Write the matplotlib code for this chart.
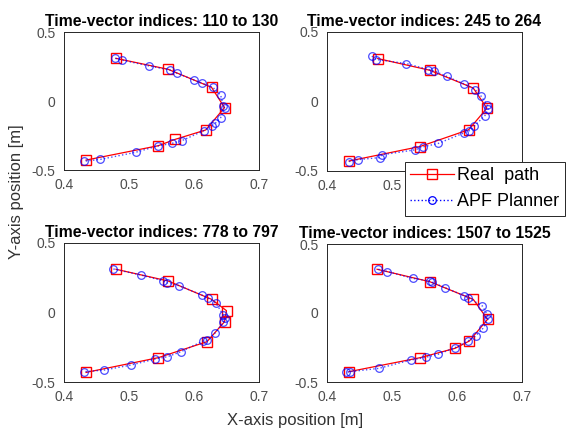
import matplotlib
matplotlib.use("Agg")
import matplotlib.pyplot as plt

plt.rcParams['font.family'] = ['Liberation Sans', 'DejaVu Sans']

titles = ["Time-vector indices: 110 to 130", "Time-vector indices: 245 to 264",
          "Time-vector indices: 778 to 797", "Time-vector indices: 1507 to 1525"]

# panel 1 (110 to 130)
real_x_1 = [0.480, 0.560, 0.627, 0.647, 0.618, 0.571, 0.545, 0.434]
real_y_1 = [0.309, 0.230, 0.099, -0.048, -0.210, -0.278, -0.324, -0.428]
apf_x_1 = [0.479, 0.489, 0.531, 0.563, 0.574, 0.600, 0.613, 0.629, 0.641, 0.645, 0.647,
           0.641, 0.633, 0.627, 0.615, 0.581, 0.566, 0.544, 0.510, 0.456, 0.430]
apf_y_1 = [0.309, 0.297, 0.254, 0.225, 0.201, 0.152, 0.128, 0.099, 0.043, -0.036, -0.053,
           -0.121, -0.160, -0.181, -0.215, -0.288, -0.307, -0.326, -0.372, -0.423, -0.437]

# panel 2 (245 to 264)
real_x_2 = [0.478, 0.558, 0.625, 0.646, 0.618, 0.543, 0.434]
real_y_2 = [0.309, 0.225, 0.097, -0.048, -0.203, -0.324, -0.428]
apf_x_2 = [0.469, 0.476, 0.522, 0.556, 0.565, 0.584, 0.610, 0.628, 0.637, 0.646, 0.648,
           0.643, 0.626, 0.619, 0.610, 0.571, 0.548, 0.535, 0.484, 0.482, 0.448, 0.434]
apf_y_2 = [0.326, 0.302, 0.273, 0.230, 0.220, 0.181, 0.128, 0.085, 0.039, -0.022, -0.053,
           -0.101, -0.179, -0.210, -0.227, -0.302, -0.326, -0.348, -0.384, -0.403, -0.418, -0.432]

# panel 3 (778 to 797)
real_x_3 = [0.480, 0.560, 0.627, 0.650, 0.647, 0.620, 0.545, 0.434]
real_y_3 = [0.311, 0.227, 0.095, 0.013, -0.066, -0.210, -0.325, -0.431]
apf_x_3 = [0.476, 0.518, 0.552, 0.558, 0.577, 0.612, 0.622, 0.634, 0.645, 0.647, 0.645,
           0.633, 0.620, 0.614, 0.580, 0.559, 0.540, 0.503, 0.462, 0.431]
apf_y_3 = [0.313, 0.270, 0.229, 0.214, 0.193, 0.126, 0.102, 0.066, -0.018, -0.042, -0.071,
           -0.145, -0.198, -0.205, -0.282, -0.318, -0.335, -0.378, -0.414, -0.426]

# panel 4 (1507 to 1525)
real_x_4 = [0.477, 0.558, 0.625, 0.647, 0.619, 0.597, 0.543, 0.434]
real_y_4 = [0.317, 0.227, 0.099, -0.046, -0.203, -0.256, -0.324, -0.425]
apf_x_4 = [0.479, 0.493, 0.532, 0.559, 0.562, 0.582, 0.611, 0.617, 0.639, 0.646, 0.648,
           0.640, 0.629, 0.617, 0.597, 0.571, 0.552, 0.529, 0.480, 0.436, 0.429]
apf_y_4 = [0.317, 0.300, 0.251, 0.232, 0.222, 0.183, 0.125, 0.111, 0.051, -0.007, -0.043,
           -0.111, -0.164, -0.203, -0.251, -0.299, -0.321, -0.341, -0.401, -0.425, -0.430]

real_x = [real_x_1, real_x_2, real_x_3, real_x_4]
real_y = [real_y_1, real_y_2, real_y_3, real_y_4]
apf_x = [apf_x_1, apf_x_2, apf_x_3, apf_x_4]
apf_y = [apf_y_1, apf_y_2, apf_y_3, apf_y_4]

W, H = 570, 432
fig = plt.figure(figsize=(W / 100, H / 100), dpi=100)

# axes boxes in pixels: left, top, right, bottom
boxes = [(64, 32, 259, 170), (327, 32, 522, 171), (64, 243, 259, 382), (327, 244, 522, 382)]

tick_col = '#4d4d4d'
for i, (l, t, r, b) in enumerate(boxes):
    ax = fig.add_axes([l / W, 1 - b / H, (r - l) / W, (b - t) / H])
    ax.plot(real_x[i], real_y[i], '-s', color='red', lw=0.9, ms=7, mfc='none', mew=1.0,
            label='Real  path')
    ax.plot(apf_x[i], apf_y[i], ':o', color='blue', lw=1.0, ms=5.5, mfc='none', mew=0.9,
            alpha=0.7, label='APF Planner')
    ax.set_xlim(0.4, 0.7)
    ax.set_ylim(-0.5, 0.5)
    ax.set_xticks([0.4, 0.5, 0.6, 0.7])
    ax.set_xticklabels(['0.4', '0.5', '0.6', '0.7'])
    ax.set_yticks([-0.5, 0, 0.5])
    ax.set_yticklabels(['-0.5', '0', '0.5'])
    ax.tick_params(direction='in', length=0, labelsize=10, labelcolor=tick_col, pad=6)
    for s in ax.spines.values():
        s.set_color('#262626')
        s.set_linewidth(0.7)
    ax.set_title(titles[i], fontsize=11.3, fontweight='bold', pad=4)
    if i == 0:
        handles, labels = ax.get_legend_handles_labels()

leg = fig.legend(handles, labels, loc='upper left', bbox_to_anchor=(405 / W, 1 - 162 / H),
                 fontsize=13, frameon=True, fancybox=False, framealpha=1,
                 edgecolor='#262626', borderpad=0.3, handlelength=2.4, handletextpad=0.2,
                 labelspacing=0.5, borderaxespad=0)
leg.get_frame().set_linewidth(0.7)
for h in leg.legend_handles:
    h.set_alpha(1)

fig.text(295 / W, 1 - 421 / H, 'X-axis position [m]', ha='center', va='center',
         fontsize=12, color='#333333')
fig.text(17 / W, 1 - 192 / H, 'Y-axis position [m]', ha='center', va='center',
         rotation=90, fontsize=12, color='#333333')

fig.savefig('out.png', dpi=100)
